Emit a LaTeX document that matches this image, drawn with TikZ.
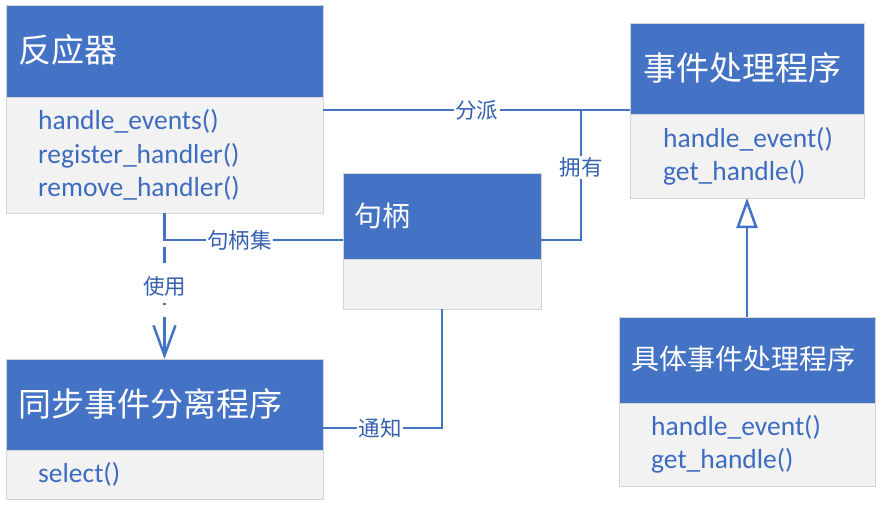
\documentclass[tikz,border=0pt]{standalone}
\usepackage{fontspec}
\setmainfont{Carlito}
\newfontfamily\cjk{Noto Sans CJK SC}
\usetikzlibrary{arrows.meta,calc}
\definecolor{hdrblue}{HTML}{4472C4}
\definecolor{bodygray}{HTML}{F2F2F2}
\definecolor{edgegray}{HTML}{D4D4D4}
\definecolor{txtblue}{HTML}{3D6BC0}
\definecolor{lblblue}{HTML}{3560B0}
\definecolor{lineblue}{HTML}{4472C4}
\begin{document}
\begin{tikzpicture}[x=1pt,y=-1pt,
  hdr/.style={draw=edgegray, line width=0.8pt, fill=hdrblue, anchor=north west, inner sep=0pt, outer sep=0pt},
  bdy/.style={draw=edgegray, line width=0.8pt, fill=bodygray, anchor=north west, inner sep=0pt, outer sep=0pt},
  title/.style={anchor=west, inner sep=0pt, text=white, font=\cjk\fontsize{33}{38}\selectfont},
  stitle/.style={title, font=\cjk\fontsize{28}{34}\selectfont},
  opline/.style={anchor=base west, inner sep=0pt, text=txtblue, font=\fontsize{27.5}{33}\selectfont},
  conn/.style={draw=lineblue, line width=2.5pt},
  lbl/.style={fill=white, inner sep=1.5pt, text=lblblue, font=\cjk\fontsize{21.5}{25}\selectfont}
]
\fill[white] (0,0) rectangle (882,508);
\useasboundingbox (0,0) rectangle (882,508);

% Reactor
\node[hdr, minimum width=317pt, minimum height=92pt] (rh) at (6,5) {};
\node[bdy, minimum width=317pt, minimum height=116pt] (rb) at (6,97) {};
\node[title] (rt) at (18,50) {反应器};
\node[opline] (r1) at (38,129) {handle\_events()};
\node[opline] (r2) at (38,163) {register\_handler()};
\node[opline] (r3) at (38,196) {remove\_handler()};

% Handle
\node[hdr, minimum width=198pt, minimum height=86pt] (hh) at (343,173) {};
\node[bdy, minimum width=198pt, minimum height=50pt] (hb) at (343,259) {};
\node[stitle] (ht) at (354,216) {句柄};

% Event handler
\node[hdr, minimum width=234pt, minimum height=91pt] (eh) at (630,23) {};
\node[bdy, minimum width=234pt, minimum height=84pt] (ebd) at (630,114) {};
\node[title] (et) at (643,67.5) {事件处理程序};
\node[opline] (e1) at (663,147) {handle\_event()};
\node[opline] (e2) at (663,180) {get\_handle()};

% Concrete event handler
\node[hdr, minimum width=256pt, minimum height=86pt] (ch) at (619,317) {};
\node[bdy, minimum width=256pt, minimum height=83pt] (cb) at (619,403) {};
\node[stitle] (ct) at (631,359) {具体事件处理程序};
\node[opline] (c1) at (651,435) {handle\_event()};
\node[opline] (c2) at (651,468) {get\_handle()};

% Synchronous event demultiplexer
\node[hdr, minimum width=317pt, minimum height=91pt] (sh) at (6,359) {};
\node[bdy, minimum width=317pt, minimum height=49pt] (sb) at (6,450) {};
\node[title] (st) at (18,404) {同步事件分离程序};
\node[opline] (s1) at (38,482) {select()};

% Connectors
\coordinate (dsp) at ($(rb.north east)+(0,13)$);
\draw[conn] (dsp) -- node[lbl, pos=0.5] {分派} (dsp -| eh.west);
\coordinate (own) at (581,110);
\draw[conn] (own) |- node[lbl, pos=0.22] {拥有} ($(hh.east)+(0,24)$);
\draw[conn] (rb.south) |- node[lbl, pos=0.71] {句柄集} ($(hh.west)+(0,24)$);
\coordinate (use) at ($(rb.south)+(0,27)$);
\draw[conn, dash pattern=on 16pt off 40pt on 2pt off 12pt on 90pt off 7pt, dash phase=160pt,
  -{Straight Barb[length=30pt,width=22pt]}] (use) -- node[lbl, pos=0.387] {使用} (sh.north);
\draw[conn, -{Triangle[open, length=30pt, width=21pt]}] (ch.north) -- (ebd.south);
\draw[conn] (hb.south) |- node[lbl, pos=0.76] {通知} ($(sh.east)+(0,23.5)$);
\end{tikzpicture}
\end{document}
